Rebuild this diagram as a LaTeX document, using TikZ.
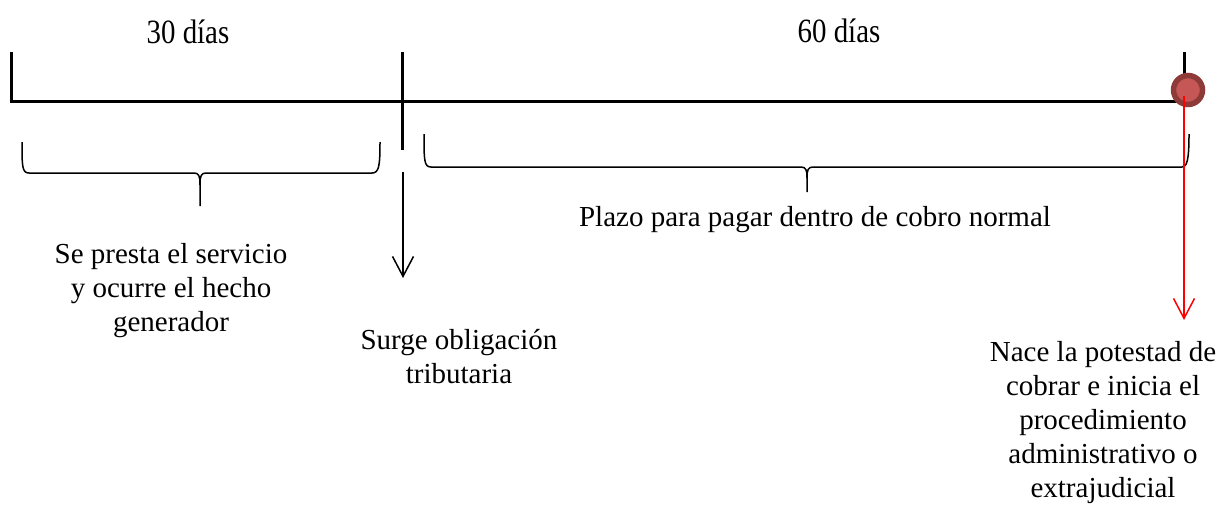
\documentclass[tikz,border=0pt]{standalone}
\usepackage{fontspec}
\setmainfont{Liberation Serif}
\newfontfamily\headfont[FakeStretch=0.85]{Liberation Serif}
\usepackage{tikz}
\usetikzlibrary{arrows.meta, positioning}
\definecolor{hitoring}{RGB}{142,58,56}
\definecolor{hitofill}{RGB}{197,88,86}
\definecolor{plazored}{RGB}{255,0,0}

\begin{document}
\begin{tikzpicture}[
    x=1pt, y=-1pt,
    timeline/.style={line width=3pt, line join=miter},
    tickline/.style={line width=3pt},
    bracket/.style={line width=1.5pt, line join=round},
    nota/.style={font=\fontsize{29}{34}\selectfont, align=center, inner sep=0pt},
    heading/.style={font=\headfont\fontsize{34}{40}\selectfont, inner sep=0pt},
    arrow/.style={-{Straight Barb[length=20pt, width=21pt]}, line width=1.5pt},
    hito/.style={circle, draw=hitoring, fill=hitofill, line width=5.5pt, minimum size=29pt, inner sep=0pt}
]
    \useasboundingbox (0,0) rectangle (1222,512);

    % Timeline
    \coordinate (inicio) at (11,101);
    \coordinate (corte) at (402,101);
    \coordinate (fin) at (1184,101);
    \draw[timeline] (11,52) -- (inicio) -- (fin);
    \draw[tickline] (402,52) -- (corte) -- (402,150);
    \draw[tickline] (1184,52) -- (fin);
    \node[hito] (cobro) at (1188,90) {};

    % Periods
    \node[heading] (treinta) at (188,32) {30 días};
    \node[heading] (sesenta) at (839,31) {60 días};

    % Braces
    \draw[bracket] (22,142) .. controls (22,166) and (22,173) .. (29,173) -- (194,173)
        .. controls (199,173) and (200,176) .. (200,185) -- (200,206);
    \draw[bracket] (200,185) .. controls (200,176) and (201,173) .. (206,173) -- (372,173)
        .. controls (379,173) and (380,166) .. (380,142);
    \draw[bracket] (424,134) .. controls (424,160) and (424,167) .. (431,167) -- (801,167)
        .. controls (806,167) and (807,170) .. (807,178) -- (807,192);
    \draw[bracket] (807,178) .. controls (807,170) and (808,167) .. (813,167) -- (1182,167)
        .. controls (1187,167) and (1189,160) .. (1189,134);

    % Labels
    \node[nota] (servicio) at (171,291) {Se presta el servicio\\y ocurre el hecho\\generador};
    \node[nota] (surge) at (459,357) {Surge obligación\\tributaria};
    \node[nota] (plazo) at (815,220) {Plazo para pagar dentro de cobro normal};
    \node[nota] (nace) at (1103,423) {Nace la potestad de\\cobrar e inicia el\\procedimiento\\administrativo o\\extrajudicial};

    % Arrows
    \coordinate (surgeIni) at (403,172);
    \coordinate (surgeFin) at (403,278);
    \coordinate (naceIni) at (1184,96);
    \coordinate (naceFin) at (1184,320);
    \draw[arrow] (surgeIni) -- (surgeFin);
    \draw[arrow, plazored] (naceIni) -- (naceFin);
\end{tikzpicture}
\end{document}
